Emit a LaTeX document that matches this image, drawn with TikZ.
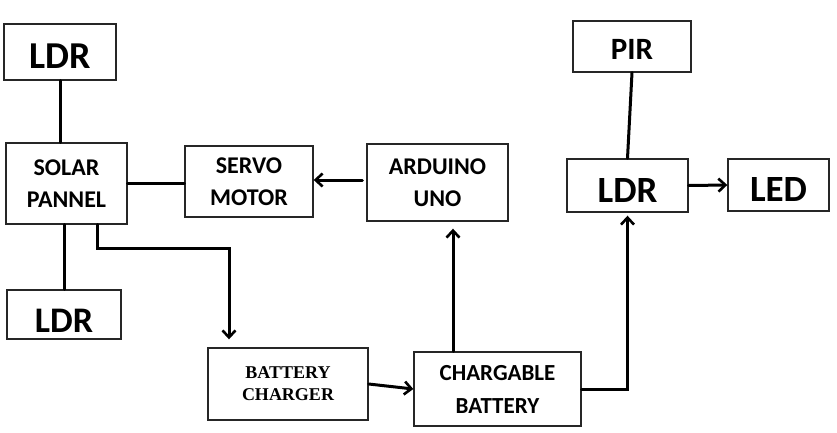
\documentclass[tikz,border=0pt]{standalone}
\usepackage{fontspec}
\newfontfamily\calibf{Carlito}
\newfontfamily\timesf{Liberation Serif}
\usetikzlibrary{arrows.meta}
\newcommand{\lowr}[2]{\raisebox{-#1}[\height][\depth]{#2}}
\begin{document}
\begin{tikzpicture}[x=1pt,y=-1pt,
  blk/.style={draw=black!85, line width=1.4pt, inner sep=0pt, align=center, font=\calibf\bfseries},
  big/.style={font=\calibf\bfseries\fontsize{38}{44}\selectfont},
  mid/.style={font=\calibf\bfseries\fontsize{24}{32}\selectfont},
  wire/.style={line width=3pt, line cap=round, line join=miter},
  arr/.style={wire, -{Straight Barb[length=7pt,width=13pt,line width=2.6pt]}}
]
\useasboundingbox (0,0) rectangle (837,433);
\fill[white] (0,0) rectangle (837,433);
% boxes
\node[blk,big,minimum width=112pt,minimum height=56pt] (ldrA) at (60,52) {\lowr{4pt}{LDR}};
\node[blk,mid,minimum width=121pt,minimum height=81pt] (solar) at (66.5,183.5) {SOLAR\\PANNEL};
\node[blk,mid,minimum width=128pt,minimum height=71pt] (servo) at (249,181.5) {SERVO\\MOTOR};
\node[blk,mid,minimum width=141pt,minimum height=77pt] (ard) at (437.5,182.5) {ARDUINO\\UNO};
\node[blk,font=\calibf\bfseries\fontsize{36}{42}\selectfont,minimum width=114pt,minimum height=49pt] (ldrB) at (64,314.5) {\lowr{6pt}{LDR}};
\node[blk,font=\timesf\bfseries\fontsize{18}{22}\selectfont,minimum width=160pt,minimum height=72pt] (chg) at (288,384) {BATTERY\\CHARGER};
\node[blk,font=\calibf\bfseries\fontsize{23}{33}\selectfont,minimum width=167pt,minimum height=74pt] (bat) at (497.5,389) {CHARGABLE\\BATTERY};
\node[blk,font=\calibf\bfseries\fontsize{31}{36}\selectfont,minimum width=118pt,minimum height=51pt] (pir) at (632,46.5) {\lowr{3pt}{PIR}};
\node[blk,font=\calibf\bfseries\fontsize{37}{42}\selectfont,minimum width=121pt,minimum height=53pt] (ldrC) at (627.5,185.5) {\lowr{5pt}{LDR}};
\node[blk,font=\calibf\bfseries\fontsize{37}{42}\selectfont,minimum width=101pt,minimum height=52pt] (led) at (778.5,185) {\lowr{5pt}{LED}};
% helper coordinates
\coordinate (sOut) at ([xshift=30.5pt]solar.south);
\coordinate (sBend) at ([yshift=-24pt]sOut);
\coordinate (cBend) at ([xshift=-59pt]chg.north |- sBend);
\coordinate (cIn) at ([xshift=-59pt]chg.north);
\coordinate (bOut) at ([xshift=-44.5pt]bat.north);
% connectors
\draw[wire] (ldrA.south) -- (ldrA.south |- solar.north);
\draw[wire] (solar.east) -- (solar.east -| servo.west);
\draw[arr, shorten <=4pt] (ard.west |- 0,180) -- (servo.east |- 0,180);
\draw[wire] (solar.south -| ldrB.north) -- (ldrB.north);
\draw[arr, shorten >=8pt] (sOut) -- (sBend) -- (cBend) -- (cIn);
\draw[arr] (chg.east) -- (bat.west);
\draw[arr, shorten >=7pt] (bOut) -- (bOut |- ard.south);
\draw[arr, shorten >=3pt] (bat.east) -| (ldrC.south);
\draw[wire] (pir.south) -- (ldrC.north);
\draw[arr] (ldrC.east) -- (led.west);
\end{tikzpicture}
\end{document}
